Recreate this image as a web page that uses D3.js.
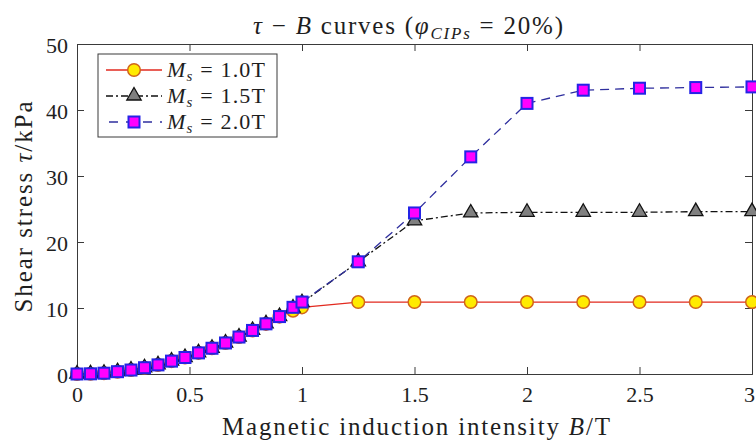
<!DOCTYPE html>
<html>
<head>
<meta charset="utf-8">
<script src="https://cdn.jsdelivr.net/npm/d3@7"></script>
<style>
  html, body { margin: 0; padding: 0; background: #fff; }
  svg { display: block; }
</style>
</head>
<body>
<svg id="chart" width="756" height="441"></svg>
<script>
// ---- data ----
const B = [0, 0.06, 0.12, 0.18, 0.24, 0.30, 0.36, 0.42, 0.48, 0.54, 0.60, 0.66, 0.72, 0.78, 0.84, 0.90, 0.96, 1.0,
           1.25, 1.5, 1.75, 2.0, 2.25, 2.5, 2.75, 3.0];
const tauMs10 = [0, 0.03, 0.12, 0.35, 0.6, 0.95, 1.38, 1.95, 2.5, 3.2, 3.9, 4.7, 5.6, 6.6, 7.6, 8.7, 9.6, 10.1,
                 10.9, 10.9, 10.9, 10.9, 10.9, 10.9, 10.9, 10.9];
const tauMs15 = [0, 0.03, 0.12, 0.35, 0.6, 0.95, 1.38, 1.95, 2.5, 3.2, 3.9, 4.7, 5.6, 6.6, 7.6, 8.7, 10.0, 10.8,
                 17.0, 23.2, 24.4, 24.5, 24.5, 24.5, 24.6, 24.6];
const tauMs20 = [0, 0.03, 0.12, 0.35, 0.6, 0.95, 1.38, 1.95, 2.5, 3.2, 3.9, 4.7, 5.6, 6.6, 7.6, 8.7, 10.1, 10.9,
                 17.0, 24.4, 32.9, 41.0, 43.0, 43.3, 43.4, 43.5];
const seriesNames = ["1.0T", "1.5T", "2.0T"];
const xTicks = [0, 0.5, 1, 1.5, 2, 2.5, 3];
const yTicks = [0, 10, 20, 30, 40, 50];

// ---- layout ----
const svg = d3.select("#chart");
const FONT = "Liberation Serif";
const TXT = "#1e1e1e";
const L = 77, R = 752, T = 44, Bm = 374;
const x = d3.scaleLinear().domain([0, 3]).range([L, R]);
const y = d3.scaleLinear().domain([0, 50]).range([Bm, T]);
const axisColor = "#3a3a3a";
const fs = 22;

// frame axes
const gB = svg.append("g").attr("transform", `translate(0,${Bm})`)
  .call(d3.axisBottom(x).tickValues(xTicks).tickSize(-7).tickFormat(d3.format("")));
const gT = svg.append("g").attr("transform", `translate(0,${T})`)
  .call(d3.axisTop(x).tickValues(xTicks).tickSize(-7).tickFormat(""));
const gL = svg.append("g").attr("transform", `translate(${L},0)`)
  .call(d3.axisLeft(y).tickValues(yTicks).tickSize(-7).tickPadding(9));
const gR = svg.append("g").attr("transform", `translate(${R},0)`)
  .call(d3.axisRight(y).tickValues(yTicks).tickSize(-7).tickFormat(""));
[gB, gT, gL, gR].forEach(g => {
  g.attr("font-family", FONT);
  g.select(".domain").attr("stroke", axisColor).attr("stroke-width", 1);
  g.selectAll(".tick line").attr("stroke", axisColor).attr("stroke-width", 1);
  g.selectAll(".tick text").attr("font-family", FONT).attr("font-size", fs).attr("fill", TXT);
});
gB.selectAll(".tick text").attr("y", 0).attr("dy", 28)
  .attr("dx", d => d === 3 ? -3 : 0);   // keep the last label inside the window
gL.selectAll(".tick text").attr("dy", 8);

// ---- series ----
const styles = [
  { vals: tauMs10, line: "#e22a1f", dash: null, marker: "circle", fill: "#ffeb00", edge: "#d0651a", ew: 1.5 },
  { vals: tauMs15, line: "#111111", dash: "7,3,2,3", marker: "triangle", fill: "#808080", edge: "#111111", ew: 1.3 },
  { vals: tauMs20, line: "#2f2f9e", dash: "9,6", marker: "square", fill: "#ff00ff", edge: "#2424e6", ew: 2 }
];
const lineGen = d3.line().x((d, i) => x(B[i])).y(d => y(d));

function drawMarker(g, type, s) {
  if (type === "circle") {
    g.append("circle").attr("r", 6.3).attr("fill", s.fill).attr("stroke", s.edge).attr("stroke-width", s.ew);
  } else if (type === "triangle") {
    g.append("path").attr("d", "M0,-8.5L7.2,4L-7.2,4Z").attr("fill", s.fill).attr("stroke", s.edge).attr("stroke-width", s.ew);
  } else {
    g.append("rect").attr("x", -5.5).attr("y", -5.5).attr("width", 11).attr("height", 11)
      .attr("fill", s.fill).attr("stroke", s.edge).attr("stroke-width", s.ew);
  }
}

styles.forEach(s => {
  svg.append("path").datum(s.vals).attr("d", lineGen).attr("fill", "none")
    .attr("stroke", s.line).attr("stroke-width", 1.3)
    .attr("stroke-dasharray", s.dash);
  svg.append("g").selectAll("g").data(s.vals).join("g")
    .attr("transform", (d, i) => `translate(${x(B[i])},${y(d)})`)
    .each(function () { drawMarker(d3.select(this), s.marker, s); });
});

// ---- legend ----
const lg = svg.append("g");
lg.append("rect").attr("x", 98).attr("y", 54).attr("width", 179).attr("height", 83)
  .attr("fill", "#fff").attr("stroke", axisColor).attr("stroke-width", 1);
const rowY = [70, 96, 122];
styles.forEach((s, i) => {
  const yy = rowY[i];
  lg.append("line").attr("x1", 106).attr("x2", 162).attr("y1", yy).attr("y2", yy)
    .attr("stroke", s.line).attr("stroke-width", 1.3).attr("stroke-dasharray", s.dash ? (i === 1 ? "7,3,2,3" : "9,8") : null)
    .attr("stroke-dashoffset", i === 2 ? -3 : 0);
  drawMarker(lg.append("g").attr("transform", `translate(134,${yy})`), s.marker, s);
  const t = lg.append("text").attr("x", 167).attr("y", yy + 7).attr("font-size", 22).attr("fill", TXT)
    .attr("font-family", FONT).attr("textLength", 98).attr("lengthAdjust", "spacing");
  t.append("tspan").attr("font-style", "italic").text("M");
  t.append("tspan").attr("font-style", "italic").attr("font-size", 15).attr("dy", 4).text("s");
  t.append("tspan").attr("dy", -4).text(" = " + seriesNames[i]);
});

// ---- title & axis labels ----
const title = svg.append("text").attr("x", 408).attr("y", 34).attr("text-anchor", "middle").attr("font-size", 25)
  .attr("fill", TXT).attr("font-family", FONT).attr("textLength", 310).attr("lengthAdjust", "spacing");
title.append("tspan").attr("font-style", "italic").text("τ");
title.append("tspan").text(" − ");
title.append("tspan").attr("font-style", "italic").text("B");
title.append("tspan").text(" curves (");
title.append("tspan").attr("font-style", "italic").text("φ");
title.append("tspan").attr("font-style", "italic").attr("font-size", 17).attr("dy", 5).text("CIPs");
title.append("tspan").attr("dy", -5).text(" = 20%)");

const xl = svg.append("text").attr("x", 416).attr("y", 435).attr("text-anchor", "middle").attr("font-size", 25)
  .attr("fill", TXT).attr("font-family", FONT).attr("textLength", 388).attr("lengthAdjust", "spacing");
xl.append("tspan").text("Magnetic induction intensity ");
xl.append("tspan").attr("font-style", "italic").text("B");
xl.append("tspan").text("/T");

const yl = svg.append("text").attr("transform", "translate(32,207) rotate(-90)").attr("text-anchor", "middle").attr("font-size", 25)
  .attr("fill", TXT).attr("font-family", FONT).attr("textLength", 211).attr("lengthAdjust", "spacing");
yl.append("tspan").text("Shear stress ");
yl.append("tspan").attr("font-style", "italic").text("τ");
yl.append("tspan").text("/kPa");
</script>
</body>
</html>
